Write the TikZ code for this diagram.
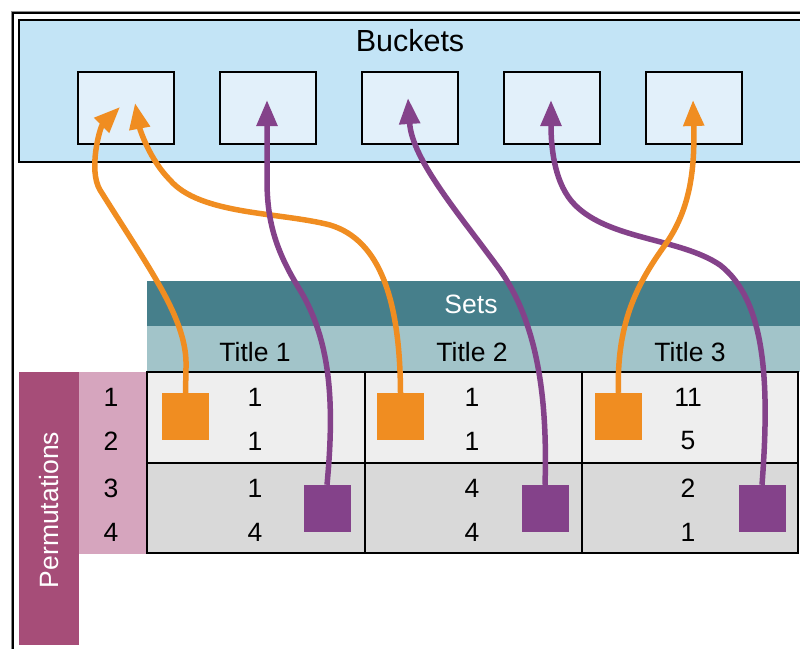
\documentclass[tikz,border=0pt]{standalone}
\usepackage{fontspec}
\setmainfont{Liberation Sans}
\usetikzlibrary{arrows.meta}

\definecolor{bucketbg}{HTML}{C3E4F6}
\definecolor{bucketin}{HTML}{E2F0FA}
\definecolor{tealdark}{HTML}{467F8B}
\definecolor{teallight}{HTML}{A2C4C9}
\definecolor{rowlight}{HTML}{EEEEEE}
\definecolor{rowdark}{HTML}{D9D9D9}
\definecolor{permdark}{HTML}{A64D78}
\definecolor{permlight}{HTML}{D6A5BE}
\definecolor{hashorange}{HTML}{F08D21}
\definecolor{hashpurple}{HTML}{84428A}

\begin{document}
\begin{tikzpicture}[x=1pt,y=-1pt,
  lbl/.style={font=\fontsize{26.5}{30}\selectfont, inner sep=0pt},
  bucket/.style={draw=black, line width=2pt, fill=bucketin,
    minimum width=96pt, minimum height=72pt, inner sep=0pt},
  marker/.style={minimum size=47pt, inner sep=0pt},
  link/.style={line width=5.5pt, -{Triangle[length=26pt,width=20pt]}},
  grid/.style={draw=black, line width=2pt}
]
\useasboundingbox (0,0) rectangle (800,648);
\clip (0,0) rectangle (800,648);

% outer frame
\draw[line width=1pt, black!45] (11,700) -- (11,11) -- (830,11);
\draw[line width=1.5pt] (13,700) -- (13,13) -- (830,13);

% bucket panel
\path[fill=bucketbg, draw=black, line width=2pt] (19,20) rectangle (840,162);
\node[lbl, font=\fontsize{30.5}{34}\selectfont] (btitle) at (410,41) {Buckets};
\foreach \i in {1,...,5} {
  \node[bucket] (b\i) at ({126+142*(\i-1)},108) {};
}

% sets header
\fill[tealdark] (147,281) rectangle (840,326);
\fill[teallight] (147,326) rectangle (840,372);
\node[lbl, text=white] (sets) at (471,304) {Sets};
\node[lbl] (t1) at (255,352) {Title 1};
\node[lbl] (t2) at (472,352) {Title 2};
\node[lbl] (t3) at (690,352) {Title 3};

% permutations header
\fill[permdark] (19,372) rectangle (79,645);
\fill[permlight] (79,372) rectangle (147,554);
\node[lbl, text=white, rotate=90] (perm) at (49,510) {Permutations};
\node[lbl] (r1) at (111,397) {1};
\node[lbl] (r2) at (111,441) {2};
\node[lbl] (r3) at (111,488) {3};
\node[lbl] (r4) at (111,532) {4};

% signature cells
\foreach \xa/\xb in {147/365, 365/582, 582/798} {
  \path[fill=rowlight, grid] (\xa,372) rectangle (\xb,463);
  \path[fill=rowdark, grid] (\xa,463) rectangle (\xb,553);
}

\node[lbl] (c11) at (255,397) {1};
\node[lbl] (c21) at (255,441) {1};
\node[lbl] (c31) at (255,488) {1};
\node[lbl] (c41) at (255,532) {4};
\node[lbl] (c12) at (472,397) {1};
\node[lbl] (c22) at (472,441) {1};
\node[lbl] (c32) at (472,488) {4};
\node[lbl] (c42) at (472,532) {4};
\node[lbl] (c13) at (688,397) {11};
\node[lbl] (c23) at (688,441) {5};
\node[lbl] (c33) at (688,488) {2};
\node[lbl] (c43) at (688,532) {1};

% band markers
\node[marker, fill=hashorange] (o1) at (185.5,416.5) {};
\node[marker, fill=hashorange] (o2) at (400.5,416.5) {};
\node[marker, fill=hashorange] (o3) at (618.5,416.5) {};
\node[marker, fill=hashpurple] (p1) at (327,508.5) {};
\node[marker, fill=hashpurple] (p2) at (545,508.5) {};
\node[marker, fill=hashpurple] (p3) at (762,508.5) {};

% arrow targets inside the buckets
\coordinate (ta) at (120,107);
\coordinate (tb) at (135,103);
\coordinate (tc) at (267,100);
\coordinate (td) at (408,98);
\coordinate (te) at (551,100);
\coordinate (tf) at (693,100);

% hashing links
\draw[link, hashorange] (o1.north) -- (186,368)
  .. controls (188,320) and (150,270) .. (100,190)
  .. controls (88,170) and (100,127) .. (ta);
\draw[link, hashorange] (o2.north)
  .. controls (400,300) and (380,240) .. (330,225)
  .. controls (280,212) and (200,215) .. (170,180)
  .. controls (150,160) and (140,130) .. (tb);
\draw[link, hashpurple] (p1.north)
  .. controls (335,400) and (330,340) .. (300,290)
  .. controls (275,250) and (267,220) .. (267,180)
  -- (tc);
\draw[link, hashpurple] (p2.north)
  .. controls (548,390) and (535,320) .. (500,270)
  .. controls (460,215) and (412,160) .. (td);
\draw[link, hashpurple] (p3.north)
  .. controls (770,380) and (765,300) .. (720,265)
  .. controls (680,238) and (610,240) .. (575,205)
  .. controls (555,185) and (551,150) .. (te);
\draw[link, hashorange] (o3.north)
  .. controls (616,320) and (640,280) .. (665,245)
  .. controls (690,210) and (695,170) .. (tf);
\end{tikzpicture}
\end{document}
